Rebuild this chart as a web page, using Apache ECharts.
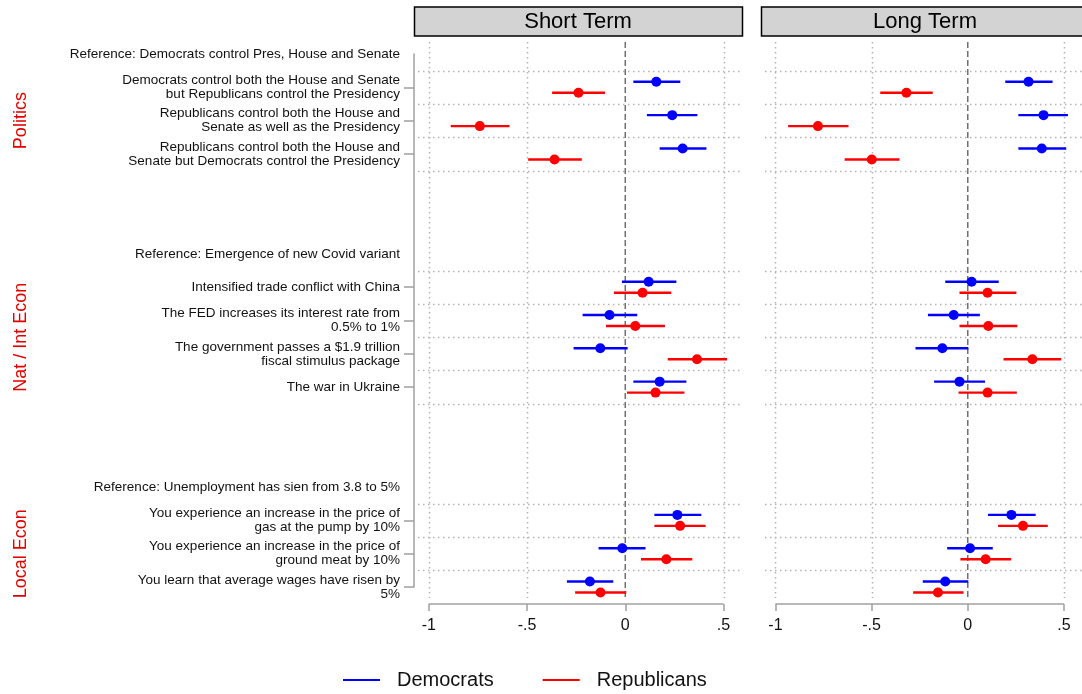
<!DOCTYPE html>
<html>
<head>
<meta charset="utf-8">
<script src="https://cdn.jsdelivr.net/npm/echarts@6/dist/echarts.min.js"></script>
<style>
  html, body { margin: 0; padding: 0; background: #fff; }
  #chart { width: 1082px; height: 694px; }
</style>
</head>
<body>
<div id="chart"></div>
<script>
// Row labels, top to bottom (blank rows separate the three groups)
const rowLabels = [
  'Reference: Democrats control Pres, House and Senate',
  'Democrats control both the House and Senate\nbut Republicans control the Presidency',
  'Republicans control both the House and\nSenate as well as the Presidency',
  'Republicans control both the House and\nSenate but Democrats control the Presidency',
  '',
  '',
  'Reference: Emergence of new Covid variant',
  'Intensified trade conflict with China',
  'The FED increases its interest rate from\n0.5% to 1%',
  'The government passes a $1.9 trillion\nfiscal stimulus package',
  'The war in Ukraine',
  '',
  '',
  'Reference: Unemployment has sien from 3.8 to 5%',
  'You experience an increase in the price of\ngas at the pump by 10%',
  'You experience an increase in the price of\nground meat by 10%',
  'You learn that average wages have risen by\n5%'
];
// Rows that carry an estimate (reference rows and blanks have none)
const itemRows = [1, 2, 3, 7, 8, 9, 10, 14, 15, 16];
const groupNames = ['Politics', 'Nat / Int Econ', 'Local Econ'];
const groupRows = [[1, 2, 3], [7, 8, 9, 10], [14, 15, 16]];
const panelTitles = ['Short Term', 'Long Term'];
const partyNames = ['Democrats', 'Republicans'];
const xTicks = [-1, -0.5, 0, 0.5];
const xTickLabels = ['-1', '-.5', '0', '.5'];

// Short term: point estimates and 95% interval bounds, one value per item row
const shortDemEst = [0.158, 0.239, 0.292, 0.119, -0.080, -0.127, 0.175, 0.265, -0.015, -0.180];
const shortDemLo  = [0.041, 0.110, 0.175, -0.017, -0.217, -0.263, 0.041, 0.148, -0.136, -0.297];
const shortDemHi  = [0.280, 0.367, 0.413, 0.260, 0.061, 0.012, 0.311, 0.387, 0.103, -0.061];
const shortRepEst = [-0.238, -0.740, -0.360, 0.088, 0.051, 0.365, 0.154, 0.279, 0.209, -0.126];
const shortRepLo  = [-0.372, -0.888, -0.494, -0.058, -0.098, 0.216, 0.009, 0.148, 0.080, -0.255];
const shortRepHi  = [-0.103, -0.589, -0.221, 0.234, 0.202, 0.518, 0.301, 0.409, 0.341, 0.005];

// Long term
const longDemEst = [0.316, 0.394, 0.385, 0.020, -0.073, -0.132, -0.043, 0.227, 0.012, -0.117];
const longDemLo  = [0.195, 0.263, 0.263, -0.117, -0.207, -0.272, -0.175, 0.105, -0.107, -0.234];
const longDemHi  = [0.441, 0.521, 0.512, 0.161, 0.063, 0.003, 0.090, 0.353, 0.130, 0.003];
const longRepEst = [-0.319, -0.779, -0.499, 0.103, 0.107, 0.336, 0.103, 0.287, 0.093, -0.155];
const longRepLo  = [-0.455, -0.934, -0.640, -0.043, -0.043, 0.186, -0.048, 0.157, -0.038, -0.284];
const longRepHi  = [-0.182, -0.620, -0.355, 0.253, 0.258, 0.486, 0.255, 0.416, 0.226, -0.022];

const panelData = [
  [[shortDemEst, shortDemLo, shortDemHi], [shortRepEst, shortRepLo, shortRepHi]],
  [[longDemEst, longDemLo, longDemHi], [longRepEst, longRepLo, longRepHi]]
];

// ---- layout & style ----
const FONT = "'Liberation Sans', Arial, sans-serif";
const partyColors = ['#0000ff', '#ff0000'];
const partyShift = [-0.165, 0.165];      // vertical nudge in row units
const panelLeft = [414, 761];
const panelWidth = 328;
const panelTop = 42;
const panelHeight = 562;
const rowTopPx = 54, rowBottomPx = 587;
const rowCount = rowLabels.length;
const rowUnit = (rowBottomPx - rowTopPx) / (rowCount - 1);
const yMin = -(rowTopPx - panelTop) / rowUnit;
const yMax = (panelTop + panelHeight - rowTopPx) / rowUnit;
const gridLineEnd = yMax - 6 / rowUnit;  // dotted grid stops just above the x axis
const xMin = -1.075, xMax = 0.594;
const axisGray = '#a0a0a0';
const dotStyle = { stroke: '#b4b4b4', lineWidth: 1.5, lineDash: [1.5, 3.5] };

const labelledRows = rowLabels.map((t, i) => (t ? i : -1)).filter(i => i >= 0);
const groupCenters = groupRows.map(g => g.reduce((a, b) => a + b, 0) / g.length);

// Boundaries between estimate rows for the dotted horizontal guides
const boundarySet = new Set();
itemRows.forEach(r => { boundarySet.add(r - 0.5); boundarySet.add(r + 0.5); });
const boundaries = Array.from(boundarySet).filter(b => b < gridLineEnd).sort((a, b) => a - b);

const grids = [
  { left: panelLeft[0], top: rowTopPx, width: 1, height: rowBottomPx - rowTopPx }
];
panelLeft.forEach(l => grids.push({ left: l, top: panelTop, width: panelWidth, height: panelHeight }));

const xAxes = [{ gridIndex: 0, type: 'value', show: false, min: 0, max: 1 }];
const yAxes = [
  {
    gridIndex: 0, type: 'value', min: 0, max: rowCount - 1, inverse: true,
    axisLine: { show: true, onZero: false, lineStyle: { color: axisGray, width: 1.5 } },
    axisTick: { show: true, customValues: itemRows, length: 10, lineStyle: { color: axisGray, width: 1.5 } },
    axisLabel: {
      customValues: labelledRows, margin: 14,
      formatter: v => rowLabels[Math.round(v)] || '',
      fontFamily: FONT, fontSize: 13.5, lineHeight: 14, color: '#111'
    },
    splitLine: { show: false }
  },
  {
    gridIndex: 0, type: 'value', min: 0, max: rowCount - 1, inverse: true,
    position: 'left', offset: 376,
    axisLine: { show: false, onZero: false }, axisTick: { show: false }, splitLine: { show: false },
    axisLabel: {
      customValues: groupCenters, rotate: 90, margin: 8,
      formatter: v => groupNames[groupCenters.findIndex(c => Math.abs(c - v) < 1e-6)] || '',
      fontFamily: FONT, fontSize: 18, color: '#e00000'
    }
  }
];

panelLeft.forEach((l, p) => {
  xAxes.push({
    gridIndex: p + 1, type: 'value', min: xMin, max: xMax, position: 'bottom',
    axisLine: { show: false, onZero: false },
    axisTick: { show: true, customValues: xTicks, length: 7, lineStyle: { color: axisGray, width: 1.5 } },
    axisLabel: {
      customValues: xTicks, margin: 14,
      formatter: v => xTickLabels[xTicks.findIndex(t => Math.abs(t - v) < 1e-9)] || '',
      fontFamily: FONT, fontSize: 16, color: '#111'
    },
    splitLine: { show: false }
  });
  yAxes.push({
    gridIndex: p + 1, type: 'value', show: false, min: yMin, max: yMax, inverse: true,
    axisLine: { onZero: false }
  });
});

const series = [];
panelLeft.forEach((l, p) => {
  // Panel furniture: dotted guides, dashed zero line and x axis line
  series.push({
    type: 'custom', xAxisIndex: p + 1, yAxisIndex: p + 2, silent: true, z: 1,
    data: [[0, 0]],
    renderItem: (params, api) => {
      const cs = params.coordSys;
      const children = [];
      const top = cs.y;
      const bottom = api.coord([0, gridLineEnd])[1];
      xTicks.forEach(t => {
        if (t === 0) return;
        const x = Math.round(api.coord([t, 0])[0]) + 0.5;
        children.push({ type: 'line', shape: { x1: x, y1: top, x2: x, y2: bottom }, style: dotStyle });
      });
      boundaries.forEach(b => {
        const y = Math.round(api.coord([0, b])[1]) + 0.5;
        children.push({ type: 'line', shape: { x1: cs.x + 4, y1: y, x2: cs.x + cs.width, y2: y }, style: dotStyle });
      });
      const x0 = api.coord([0, 0])[0];
      children.push({ type: 'line', shape: { x1: x0, y1: top, x2: x0, y2: bottom },
        style: { stroke: '#707070', lineWidth: 1.5, lineDash: [6, 3] } });
      const ax = cs.y + cs.height;
      children.push({ type: 'line',
        shape: { x1: api.coord([xTicks[0], 0])[0], y1: ax, x2: api.coord([xTicks[xTicks.length - 1], 0])[0], y2: ax },
        style: { stroke: axisGray, lineWidth: 1.5 } });
      return { type: 'group', children };
    }
  });
  // Estimates with confidence intervals
  panelData[p].forEach((arrs, k) => {
    const [est, lo, hi] = arrs;
    series.push({
      type: 'custom', name: partyNames[k], xAxisIndex: p + 1, yAxisIndex: p + 2, z: 3,
      itemStyle: { color: partyColors[k] },
      data: itemRows.map((r, i) => [est[i], lo[i], hi[i], r]),
      encode: { x: [0, 1, 2], y: 3 },
      renderItem: (params, api) => {
        const row = api.value(3);
        const dy = partyShift[k] * api.size([0, 1])[1];
        const c = api.coord([api.value(0), row]);
        const a = api.coord([api.value(1), row]);
        const b = api.coord([api.value(2), row]);
        return {
          type: 'group',
          children: [
            { type: 'line', shape: { x1: a[0], y1: a[1] + dy, x2: b[0], y2: b[1] + dy },
              style: { stroke: partyColors[k], lineWidth: 2.4 } },
            { type: 'circle', shape: { cx: c[0], cy: c[1] + dy, r: 5 },
              style: { fill: partyColors[k] } }
          ]
        };
      }
    });
  });
});

// Panel headers
const graphic = [];
panelLeft.forEach((l, p) => {
  graphic.push({
    type: 'rect', shape: { x: l + 0.5, y: 7, width: panelWidth, height: 29 },
    style: { fill: '#d3d3d3', stroke: '#000', lineWidth: 1.5 }, z: 10
  });
  graphic.push({
    type: 'text', x: l + panelWidth / 2, y: 22, z: 11,
    style: { text: panelTitles[p], fontFamily: FONT, fontSize: 22, fill: '#000',
             textAlign: 'center', textVerticalAlign: 'middle' }
  });
});

const chart = echarts.init(document.getElementById('chart'), null, { renderer: 'canvas' });
chart.setOption({
  backgroundColor: '#fff',
  animation: false,
  color: partyColors,
  grid: grids,
  xAxis: xAxes,
  yAxis: yAxes,
  series,
  graphic,
  legend: {
    data: partyNames.map(n => ({ name: n, icon: 'rect' })),
    left: 338, top: 665,
    itemWidth: 37, itemHeight: 2, itemGap: 49,
    textStyle: { fontFamily: FONT, fontSize: 20, color: '#111', padding: [0, 0, 0, 12] }
  }
});
</script>
</body>
</html>
